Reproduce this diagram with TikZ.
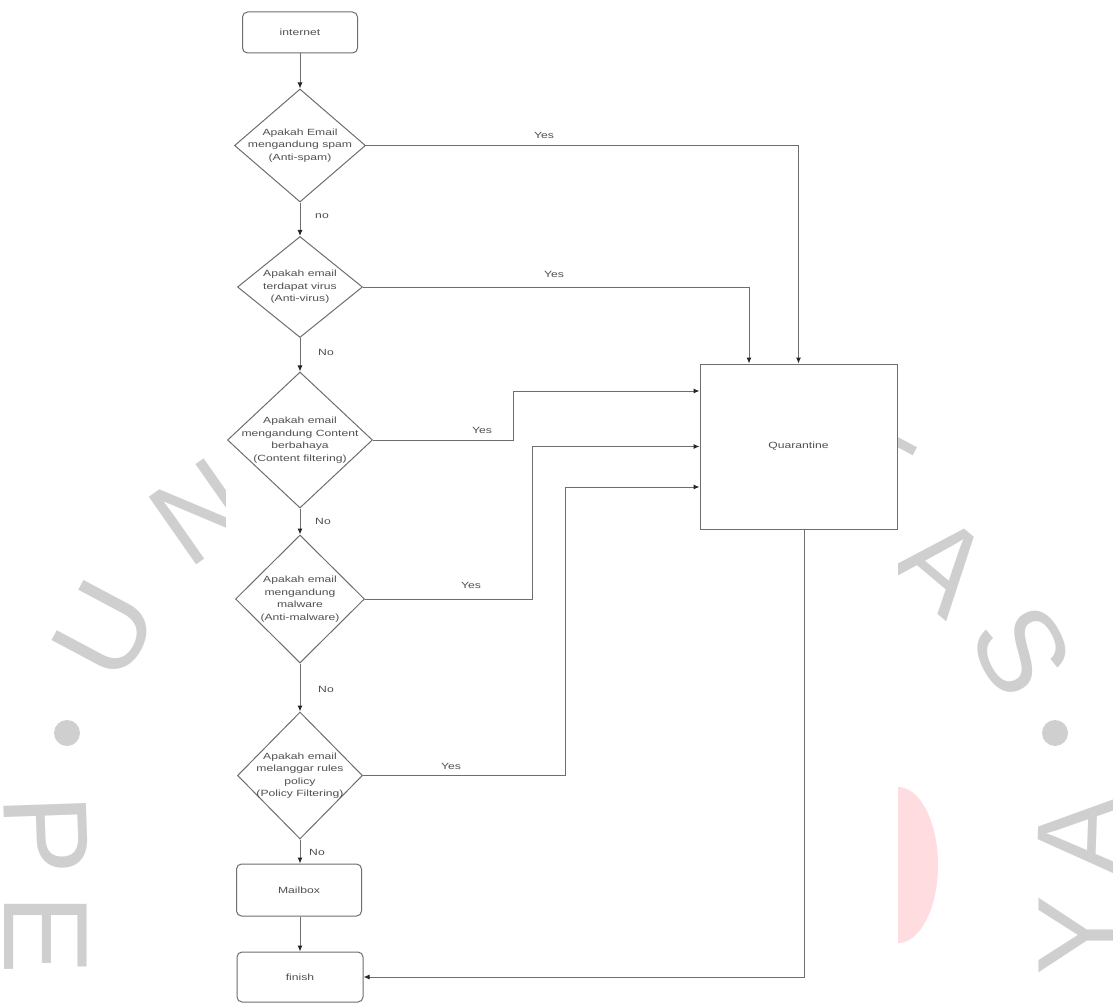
\documentclass[tikz,border=0pt]{standalone}
\usepackage{fontspec}
\setmainfont{Liberation Sans}
\newfontfamily\dfont{Liberation Sans}[FakeStretch=1.35]
\usetikzlibrary{shapes.geometric,arrows.meta}
\definecolor{lncol}{HTML}{6E6E6E}
\definecolor{txcol}{HTML}{505050}
\definecolor{wmcol}{HTML}{CFCFCF}
\definecolor{pinkcol}{HTML}{FFDCE0}
\begin{document}
\begin{tikzpicture}[x=1pt,y=-1pt,
  box/.style={draw=lncol, fill=white, rounded corners=5pt, line width=1pt, inner sep=0pt},
  qbox/.style={draw=lncol, fill=white, line width=1pt, inner sep=0pt},
  dia/.style={draw=lncol, fill=white, diamond, line width=1pt, inner sep=0pt},
  txt/.style={text=txcol, font=\dfont\fontsize{9}{12.5}\selectfont, align=center},
  lbl/.style={text=txcol, font=\dfont\fontsize{9}{12.5}\selectfont, inner sep=0pt},
  conn/.style={draw=lncol, line width=1pt, -{Latex[length=6pt,width=5pt,color=black!85]}},
  wm/.style={text=wmcol, font=\fontsize{120}{120}\selectfont, inner sep=0pt}
]
\useasboundingbox (0,0) rectangle (1113,1003);
% watermark
\fill[pinkcol] (898,865) ellipse [x radius=40pt, y radius=78pt];
\node[wm, rotate=35] (wN) at (200,512) {N};
\node[wm, rotate=62] (wU) at (105,630) {U};
\fill[wmcol] (67,733) circle (13pt);
\node[wm, rotate=-88] (wP) at (46,835) {P};
\node[wm, rotate=-90] (wE) at (46,935) {E};
\node[wm, rotate=-28] (wT) at (868,468) {T};
\node[wm, rotate=-40] (wA) at (943,565) {A};
\node[wm, rotate=-62] (wS) at (1022,650) {S};
\fill[wmcol] (1055,733) circle (13pt);
\node[wm, rotate=88] (wA2) at (1080,835) {A};
\node[wm, rotate=90] (wY) at (1080,935) {Y};
\fill[white] (226,0) rectangle (898,1003);
% nodes
\node[box, txt, minimum width=115pt, minimum height=41pt] (inet) at (300,32.5) {internet};
\node[dia, minimum width=131pt, minimum height=113pt] (d1) at (300,145.5) {};
\node[txt] (t1) at (d1) {Apakah Email\\mengandung spam\\(Anti-spam)};
\node[dia, minimum width=125pt, minimum height=101pt] (d2) at (300,287) {};
\node[txt] (t2) at (d2) {Apakah email\\terdapat virus\\(Anti-virus)};
\node[dia, minimum width=145pt, minimum height=136pt] (d3) at (300,440) {};
\node[txt] (t3) at (d3) {Apakah email\\mengandung Content\\berbahaya\\(Content filtering)};
\node[dia, minimum width=129pt, minimum height=128pt] (d4) at (300,599) {};
\node[txt] (t4) at (d4) {Apakah email\\mengandung\\malware\\(Anti-malware)};
\node[dia, minimum width=125pt, minimum height=127pt] (d5) at (300,775.5) {};
\node[txt] (t5) at (d5) {Apakah email\\melanggar rules\\policy\\(Policy Filtering)};
\node[box, txt, minimum width=125pt, minimum height=52pt] (mb) at (299,890) {Mailbox};
\node[box, txt, minimum width=126pt, minimum height=50pt] (fin) at (300,977) {finish};
\node[qbox, txt, minimum width=197pt, minimum height=165pt] (q) at (798.5,446.5) {Quarantine};
% main column
\draw[conn] (inet) -- (d1);
\draw[conn] (d1) -- (d2);
\draw[conn] (d2) -- (d3);
\draw[conn] (d3) -- (d4);
\draw[conn] (d4) -- (d5);
\draw[conn] (d5.south) -- (d5.south |- mb.north);
\draw[conn] (mb.south -| fin.north) -- (fin.north);
\node[lbl] (n1) at (322,216) {no};
\node[lbl] (n2) at (326,352) {No};
\node[lbl] (n3) at (323,521) {No};
\node[lbl] (n4) at (326,689) {No};
\node[lbl] (n5) at (317,852) {No};
% yes branches
\draw[conn] (d1.east) -| (q.north);
\draw[conn] (d2.east) -| (q.north -| 749,0);
\draw[conn] (d3.east) -- (d3.east -| 513,0) |- (q.west |- 0,391);
\draw[conn] (d4.east) -- (d4.east -| 532,0) |- (q.west);
\draw[conn] (d5.east) -- (d5.east -| 565,0) |- (q.west |- 0,487);
\draw[conn] (q.south -| 804,0) |- (fin.east);
\node[lbl] (y1) at (544,135) {Yes};
\node[lbl] (y2) at (554,274) {Yes};
\node[lbl] (y3) at (482,430) {Yes};
\node[lbl] (y4) at (471,585) {Yes};
\node[lbl] (y5) at (451,766) {Yes};
\end{tikzpicture}
\end{document}
